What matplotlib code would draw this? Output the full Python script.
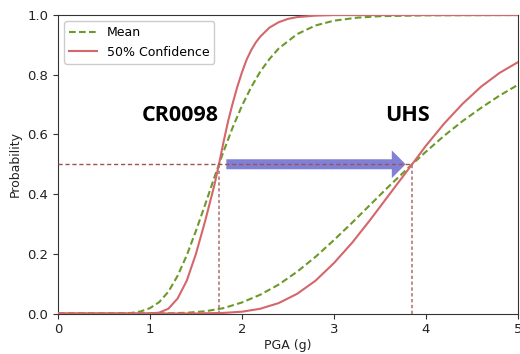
import matplotlib
matplotlib.use("Agg")
import matplotlib.pyplot as plt

# ---- data ----
cr_x = [0, 0.9, 1.0, 1.1, 1.2, 1.3, 1.4, 1.5, 1.6, 1.7, 1.75, 1.8, 1.85, 1.9, 1.95, 2.0, 2.05, 2.1, 2.15, 2.2, 2.3, 2.4, 2.5, 2.6, 2.8, 3.0, 5.0]
cr_conf = [0, 0, 0.0, 0.003, 0.016, 0.05, 0.11, 0.2, 0.31, 0.43, 0.5, 0.575, 0.645, 0.705, 0.76, 0.808, 0.85, 0.882, 0.908, 0.928, 0.958, 0.976, 0.987, 0.993, 0.998, 1.0, 1.0]

crm_x = [0, 0.6, 0.7, 0.8, 0.9, 1.0, 1.1, 1.2, 1.3, 1.4, 1.5, 1.6, 1.7, 1.75, 1.8, 1.9, 2.0, 2.1, 2.2, 2.3, 2.4, 2.6, 2.8, 3.0, 3.25, 3.5, 4.0, 5.0]
cr_mean = [0, 0, 0.0004, 0.002, 0.007, 0.018, 0.038, 0.073, 0.126, 0.195, 0.277, 0.365, 0.456, 0.5, 0.543, 0.624, 0.696, 0.758, 0.811, 0.853, 0.888, 0.936, 0.965, 0.981, 0.991, 0.996, 0.999, 1.0]

uhs_x = [0, 1.5, 1.8, 2.0, 2.2, 2.4, 2.6, 2.8, 3.0, 3.2, 3.4, 3.6, 3.85, 4.0, 4.2, 4.4, 4.6, 4.8, 5.0]
uhs_conf = [0, 0.0001, 0.002, 0.006, 0.016, 0.035, 0.066, 0.11, 0.169, 0.238, 0.316, 0.398, 0.5, 0.562, 0.637, 0.703, 0.76, 0.806, 0.842]

uhsm_x = [0, 1.2, 1.4, 1.6, 1.8, 2.0, 2.2, 2.4, 2.6, 2.8, 3.0, 3.2, 3.4, 3.6, 3.85, 4.0, 4.2, 4.4, 4.6, 4.8, 5.0]
uhs_mean = [0, 0.0006, 0.0025, 0.0074, 0.018, 0.037, 0.063, 0.097, 0.14, 0.19, 0.246, 0.305, 0.366, 0.427, 0.5, 0.542, 0.596, 0.645, 0.689, 0.73, 0.766]

median_cr = 1.75
median_uhs = 3.85
labels = ["CR0098", "UHS"]

GREEN = "#6b9a2a"
RED = "#d4676b"

fig = plt.figure(figsize=(5.2, 3.54), dpi=100)
ax = fig.add_axes([0.1115, 0.1144, 0.8845, 0.8432])

ax.plot(crm_x, cr_mean, color=GREEN, ls=(0, (3.2, 1.6)), lw=1.5, label="Mean", zorder=3)
ax.plot(cr_x, cr_conf, color=RED, lw=1.5, label="50% Confidence", zorder=3)
ax.plot(uhsm_x, uhs_mean, color=GREEN, ls=(0, (3.2, 1.6)), lw=1.5, zorder=3)
ax.plot(uhs_x, uhs_conf, color=RED, lw=1.5, zorder=3)

# arrow (below the guide lines)
ax.annotate("", xy=(3.78, 0.5), xytext=(1.83, 0.5),
            arrowprops=dict(arrowstyle="simple,head_length=1.0,head_width=2.0,tail_width=0.72",
                            fc="#7272d2", ec="none", alpha=0.9, mutation_scale=10,
                            shrinkA=0, shrinkB=0),
            zorder=2)

# guide lines
ax.plot([0, median_uhs], [0.5, 0.5], color="#a2524c", lw=1.0, ls=(0, (3, 2)), zorder=4)
ax.plot([median_cr, median_cr], [0, 0.5], color="#b07a78", lw=1.2, ls=(0, (2, 1.5)), zorder=4)
ax.plot([median_uhs, median_uhs], [0, 0.5], color="#b07a78", lw=1.2, ls=(0, (2, 1.5)), zorder=4)

ax.text(1.326, 0.665, labels[0], fontsize=15.5, fontweight="bold", family="Open Sans",
        ha="center", va="center", color="black")
ax.text(3.804, 0.663, labels[1], fontsize=15.5, fontweight="bold", family="Open Sans",
        ha="center", va="center", color="black")

ax.set_xlim(0, 5)
ax.set_ylim(0, 1)
ax.set_xticks([0, 1, 2, 3, 4, 5])
ax.set_yticks([0.0, 0.2, 0.4, 0.6, 0.8, 1.0])
ax.tick_params(labelsize=9.5, length=3.5, color="#333333", labelcolor="#222222")
ax.set_xlabel("PGA (g)", fontsize=9, color="#222222", labelpad=2)
ax.set_ylabel("Probability", fontsize=9, color="#222222", labelpad=4)
for s in ax.spines.values():
    s.set_color("#333333")

ax.legend(loc="upper left", fontsize=9, framealpha=1, edgecolor="#cccccc",
          handlelength=2.2, borderaxespad=0.5)

fig.savefig("out.png", dpi=100)
